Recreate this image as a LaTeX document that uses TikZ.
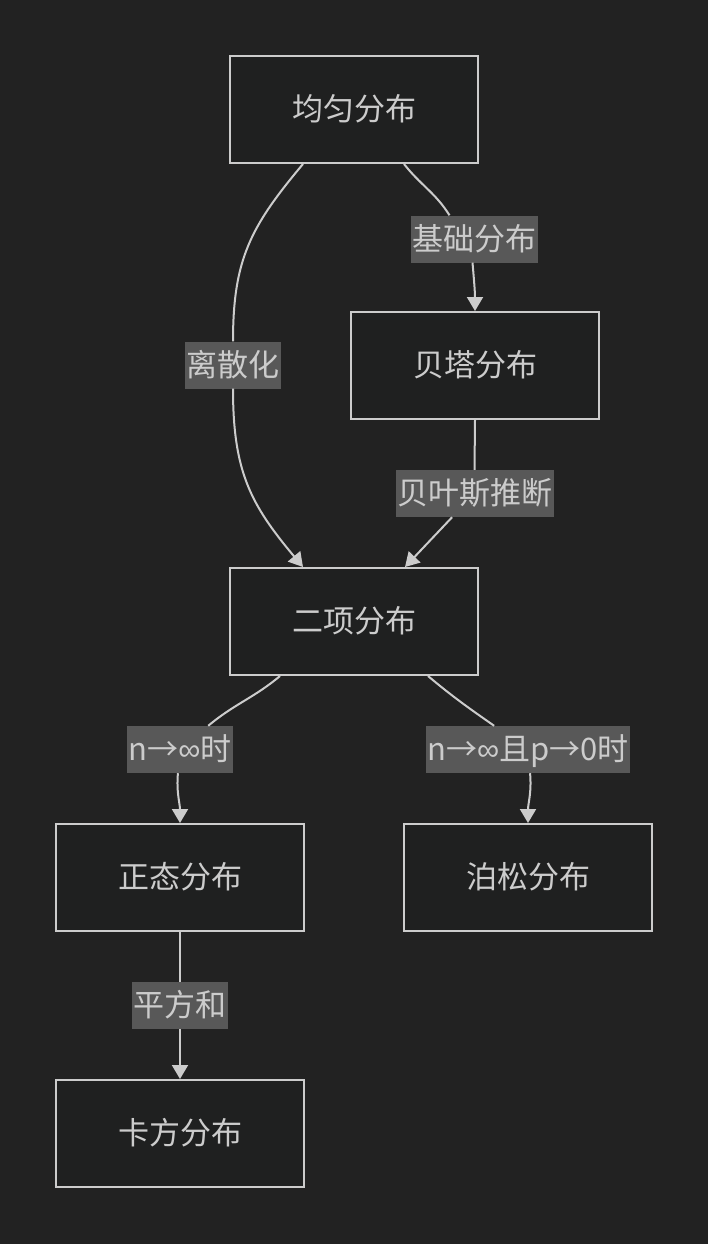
\documentclass[tikz,border=0pt]{standalone}
\usepackage{fontspec}
\usepackage{xcolor}
\usepackage{tikz}
\usetikzlibrary{positioning, arrows.meta}
\newfontfamily\cjk{Noto Sans CJK SC}
\newfontfamily\lat{Liberation Sans}
\newcommand{\inftxt}{{\lat ∞}}
\definecolor{bgdark}{HTML}{222222}
\definecolor{boxfill}{HTML}{1F2020}
\definecolor{edgegray}{HTML}{CCCCCC}
\definecolor{lblfill}{HTML}{585858}

\begin{document}
\begin{tikzpicture}[x=1pt, y=1pt,
    dist/.style={draw=edgegray, line width=2pt, fill=boxfill, inner sep=0pt,
                 minimum width=248pt, minimum height=107pt, text=edgegray,
                 font=\cjk\fontsize{31}{37}\selectfont, text height=25pt, text depth=3pt},
    lbl/.style={fill=lblfill, inner xsep=1.5pt, inner ysep=0pt, minimum height=47pt,
                text=edgegray, font=\cjk\fontsize{31}{37}\selectfont,
                text height=25pt, text depth=3pt},
    line/.style={draw=edgegray, line width=2pt},
    arrow/.style={line, -{Triangle[length=14pt, width=16pt]}},
]
\fill[bgdark] (0,0) rectangle (708,-1244);
\useasboundingbox (0,0) rectangle (708,-1244);

\node[dist] (uni) at (354, -109.5) {均匀分布};
\node[dist] (beta) at (475, -365.5) {贝塔分布};
\node[dist] (bin) at (354, -621.5) {二项分布};
\node[dist] (norm) at (180, -877.5) {正态分布};
\node[dist] (pois) at (528, -877.5) {泊松分布};
\node[dist] (chi) at (180, -1133.5) {卡方分布};

% edge labels
\node[lbl] (base) at (474.5, -239) {基础分布};
\node[lbl] (disc) at (233, -365) {离散化};
\node[lbl] (bayes) at (474.5, -493.5) {贝叶斯推断};
\node[lbl] (ninf) at (180, -749.5) {n→\inftxt 时};
\node[lbl] (npz) at (528, -749.5) {n→\inftxt 且p→0时};
\node[lbl] (sqsum) at (180, -1005.5) {平方和};

\draw[line] ([xshift=50]uni.south) to[out=-52, in=122] ([xshift=-25]base.north);
\draw[arrow] ([xshift=-2]base.south) to[out=-85, in=90] (beta.north);
\draw[line] ([xshift=-51]uni.south) to[out=-130, in=90, looseness=1.1] (disc);
\draw[arrow] (disc) to[out=-90, in=130, looseness=1.1] ([xshift=-51]bin.north);
\draw[line] (beta.south) -- (bayes.north);
\draw[arrow] (bayes) -- ([xshift=51]bin.north);
\draw[line] ([xshift=-74]bin.south) to[out=-140, in=40] (ninf);
\draw[arrow] (ninf) to[out=-95, in=90] (norm);
\draw[line] ([xshift=74]bin.south) to[out=-40, in=145] (npz);
\draw[arrow] (npz) to[out=-85, in=90] (pois);
\draw[line] (norm) -- (sqsum);
\draw[arrow] (sqsum) -- (chi);
\end{tikzpicture}
\end{document}
